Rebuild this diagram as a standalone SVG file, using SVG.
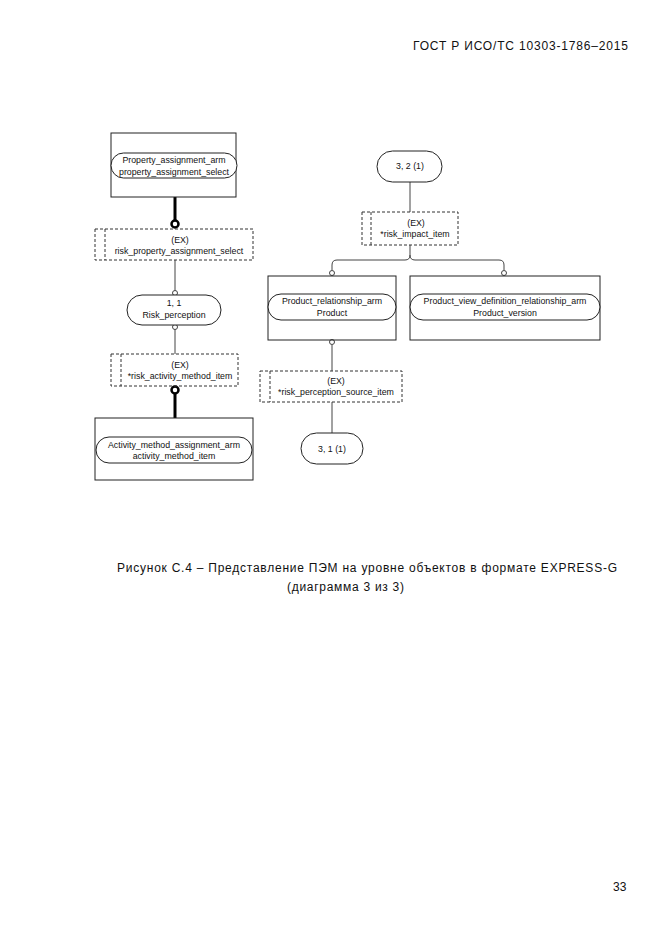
<svg xmlns="http://www.w3.org/2000/svg" width="661" height="935" viewBox="0 0 661 935">
<style>
.box{fill:none;stroke:#222;stroke-width:1}
.pill{fill:#fff;stroke:#222;stroke-width:1}
.ex{fill:none;stroke:#333;stroke-width:1;stroke-dasharray:3,2}
.ln{fill:none;stroke:#444;stroke-width:1}
.thick{fill:none;stroke:#000;stroke-width:3}
.oc{fill:#fff;stroke:#444;stroke-width:1}
.toc{fill:#fff;stroke:#000;stroke-width:2.5}
.t{font-family:"Liberation Sans",Arial,sans-serif;font-size:8.8px;fill:#111;text-anchor:middle}
.cap{font-family:"Liberation Sans",Arial,sans-serif;font-size:12px;fill:#111}
</style>
<rect width="661" height="935" fill="#fff"/>
<text class="cap" x="413" y="50" textLength="215">ГОСТ Р ИСО/ТС 10303-1786–2015</text>

<g id="connectors">
<line class="thick" x1="175" y1="197" x2="175" y2="221"/>
<line class="ln" x1="175" y1="260" x2="175" y2="291"/>
<line class="ln" x1="175" y1="329" x2="175" y2="354"/>
<line class="thick" x1="175" y1="393" x2="175" y2="418"/>
<circle class="toc" cx="175" cy="224" r="3.5"/>
<circle class="oc" cx="175" cy="293" r="2.5"/>
<circle class="oc" cx="175" cy="327" r="2.5"/>
<circle class="toc" cx="175" cy="390" r="3.5"/>
<line class="ln" x1="410" y1="182" x2="410" y2="212"/>
<path class="ln" d="M410,245 V255 Q410,260 405,260 H337 Q332,260 332,265 V270"/>
<path class="ln" d="M410,255 Q410,260 415,260 H499 Q504,260 504,265 V270"/>
<circle class="oc" cx="332" cy="273" r="2.5"/>
<circle class="oc" cx="504" cy="273" r="2.5"/>
<line class="ln" x1="332" y1="345" x2="332" y2="371"/>
<circle class="oc" cx="332" cy="342" r="2.5"/>
<line class="ln" x1="332" y1="402" x2="332" y2="433"/>
</g>

<g id="property_assignment_arm">
<rect class="box" x="111" y="133" width="125" height="64"/>
<rect class="pill" x="111" y="153" width="126" height="25" rx="12.5"/>
<text class="t" x="174" y="163">Property_assignment_arm</text>
<text class="t" x="174" y="175">property_assignment_select</text>
</g>

<g id="risk_property_assignment_select">
<rect class="ex" x="95" y="229" width="158" height="31"/>
<line class="ex" x1="105" y1="229" x2="105" y2="260"/>
<text class="t" x="180" y="243">(EX)</text>
<text class="t" x="179" y="254">risk_property_assignment_select</text>
</g>

<g id="risk_perception">
<rect class="pill" x="127" y="295" width="94" height="30" rx="15"/>
<text class="t" x="174" y="306">1, 1</text>
<text class="t" x="174" y="318">Risk_perception</text>
</g>

<g id="risk_activity_method_item">
<rect class="ex" x="111" y="354" width="127" height="32"/>
<line class="ex" x1="121" y1="354" x2="121" y2="386"/>
<text class="t" x="180" y="368">(EX)</text>
<text class="t" x="180" y="379">*risk_activity_method_item</text>
</g>

<g id="activity_method_assignment_arm">
<rect class="box" x="95" y="418" width="158" height="62"/>
<rect class="pill" x="96" y="437" width="156" height="26" rx="13"/>
<text class="t" x="174" y="448">Activity_method_assignment_arm</text>
<text class="t" x="174" y="459">activity_method_item</text>
</g>

<g id="ref_3_2">
<rect class="pill" x="377" y="151" width="65" height="31" rx="15.5"/>
<text class="t" x="410" y="169">3, 2 (1)</text>
</g>

<g id="risk_impact_item">
<rect class="ex" x="362" y="212" width="96" height="33"/>
<line class="ex" x1="371" y1="212" x2="371" y2="245"/>
<text class="t" x="416" y="226">(EX)</text>
<text class="t" x="415" y="237">*risk_impact_item</text>
</g>

<g id="product_relationship_arm">
<rect class="box" x="268" y="276" width="128" height="64"/>
<rect class="pill" x="268" y="294" width="128" height="26" rx="13"/>
<text class="t" x="332" y="304">Product_relationship_arm</text>
<text class="t" x="332" y="316">Product</text>
</g>

<g id="product_view_definition_relationship_arm">
<rect class="box" x="410" y="276" width="190" height="64"/>
<rect class="pill" x="410" y="294" width="190" height="26" rx="13"/>
<text class="t" x="505" y="304">Product_view_definition_relationship_arm</text>
<text class="t" x="505" y="316">Product_version</text>
</g>

<g id="risk_perception_source_item">
<rect class="ex" x="260" y="371" width="142" height="31"/>
<line class="ex" x1="270" y1="371" x2="270" y2="402"/>
<text class="t" x="336" y="384">(EX)</text>
<text class="t" x="336" y="395">*risk_perception_source_item</text>
</g>

<g id="ref_3_1">
<rect class="pill" x="301" y="433" width="62" height="31" rx="15.5"/>
<text class="t" x="332" y="452">3, 1 (1)</text>
</g>

<text class="cap" x="117" y="572" textLength="500" lengthAdjust="spacing">Рисунок  С.4 – Представление ПЭМ на уровне объектов в формате EXPRESS-G</text>
<text class="cap" x="287" y="591" textLength="117" lengthAdjust="spacing">(диаграмма 3 из 3)</text>
<text class="cap" x="613" y="891">33</text>
</svg>
